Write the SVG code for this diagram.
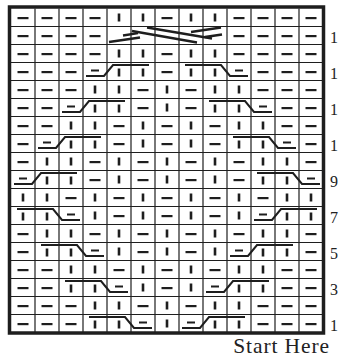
<svg xmlns="http://www.w3.org/2000/svg" xmlns:xlink="http://www.w3.org/1999/xlink" width="339" height="358" viewBox="0 0 339 358">
<style>
.g{stroke:#1e1e1e;stroke-width:1.2;fill:none}
.b{stroke:#1e1e1e;stroke-width:3.5;fill:none}
.s{fill:#1e1e1e}
.c{stroke:#1e1e1e;stroke-width:2;fill:none;stroke-linejoin:miter}
.x{stroke:#1e1e1e;stroke-width:2.3;fill:none}
.n{font-family:"Liberation Serif","Times New Roman",serif;font-size:16px;fill:#222}
.t{font-family:"Liberation Serif","Times New Roman",serif;font-size:21.5px;letter-spacing:0.9px;fill:#222}
</style>
<defs>
<rect id="p" x="-5.5" y="-0.5" width="11" height="2.2"/>
<rect id="k" x="-1.3" y="-4" width="2.6" height="8"/>
<g id="cl">
<rect x="8" y="7" width="8" height="2"/>
<rect x="34.7" y="6" width="2.6" height="8"/>
<rect x="58.7" y="6" width="2.6" height="8"/>
<path class="c" d="M3,13.5 H21 L30,2.5 H66"/>
</g>
<g id="cr">
<rect x="10.7" y="6" width="2.6" height="8"/>
<rect x="34.7" y="6" width="2.6" height="8"/>
<rect x="56" y="7" width="8" height="2"/>
<path class="c" d="M6,2.5 H42 L51,13.5 H69"/>
</g>
</defs>
<rect x="0" y="0" width="339" height="358" fill="#fff"/>
<g id="grid">
<path class="g" d="M35,8.5V332.5M59,8.5V332.5M83,8.5V332.5M107,8.5V332.5M131,8.5V332.5M155,8.5V332.5M179,8.5V332.5M203,8.5V332.5M227,8.5V332.5M251,8.5V332.5M275,8.5V332.5M299,8.5V332.5"/>
<path class="g" d="M11,26.5H323M11,44.5H323M11,62.5H323M11,80.5H323M11,98.5H323M11,116.5H323M11,134.5H323M11,152.5H323M11,170.5H323M11,188.5H323M11,206.5H323M11,224.5H323M11,242.5H323M11,260.5H323M11,278.5H323M11,296.5H323M11,314.5H323"/>
<rect class="b" x="9.5" y="7" width="314" height="326"/>
</g>
<g id="stitches" class="s">
<!-- r0 -->
<use href="#p" x="23" y="17.5"/><use href="#p" x="47" y="17.5"/><use href="#p" x="71" y="17.5"/><use href="#p" x="95" y="17.5"/><use href="#k" x="119" y="17.5"/><use href="#k" x="143" y="17.5"/><use href="#p" x="167" y="17.5"/><use href="#k" x="191" y="17.5"/><use href="#k" x="215" y="17.5"/><use href="#p" x="239" y="17.5"/><use href="#p" x="263" y="17.5"/><use href="#p" x="287" y="17.5"/><use href="#p" x="311" y="17.5"/>
<!-- r1 -->
<use href="#p" x="23" y="35.5"/><use href="#p" x="47" y="35.5"/><use href="#p" x="71" y="35.5"/><use href="#p" x="95" y="35.5"/><use href="#p" x="239" y="35.5"/><use href="#p" x="263" y="35.5"/><use href="#p" x="287" y="35.5"/><use href="#p" x="311" y="35.5"/>
<!-- r2 -->
<use href="#p" x="23" y="53.5"/><use href="#p" x="47" y="53.5"/><use href="#p" x="71" y="53.5"/><use href="#p" x="95" y="53.5"/><use href="#k" x="119" y="53.5"/><use href="#k" x="143" y="53.5"/><use href="#p" x="167" y="53.5"/><use href="#k" x="191" y="53.5"/><use href="#k" x="215" y="53.5"/><use href="#p" x="239" y="53.5"/><use href="#p" x="263" y="53.5"/><use href="#p" x="287" y="53.5"/><use href="#p" x="311" y="53.5"/>
<!-- r3 -->
<use href="#p" x="23" y="71.5"/><use href="#p" x="47" y="71.5"/><use href="#p" x="71" y="71.5"/><use href="#p" x="167" y="71.5"/><use href="#p" x="263" y="71.5"/><use href="#p" x="287" y="71.5"/><use href="#p" x="311" y="71.5"/>
<!-- r4 -->
<use href="#p" x="23" y="89.5"/><use href="#p" x="47" y="89.5"/><use href="#p" x="71" y="89.5"/><use href="#k" x="95" y="89.5"/><use href="#k" x="119" y="89.5"/><use href="#p" x="143" y="89.5"/><use href="#k" x="167" y="89.5"/><use href="#p" x="191" y="89.5"/><use href="#k" x="215" y="89.5"/><use href="#k" x="239" y="89.5"/><use href="#p" x="263" y="89.5"/><use href="#p" x="287" y="89.5"/><use href="#p" x="311" y="89.5"/>
<!-- r5 -->
<use href="#p" x="23" y="107.5"/><use href="#p" x="47" y="107.5"/><use href="#p" x="143" y="107.5"/><use href="#k" x="167" y="107.5"/><use href="#p" x="191" y="107.5"/><use href="#p" x="287" y="107.5"/><use href="#p" x="311" y="107.5"/>
<!-- r6 -->
<use href="#p" x="23" y="125.5"/><use href="#p" x="47" y="125.5"/><use href="#k" x="71" y="125.5"/><use href="#k" x="95" y="125.5"/><use href="#p" x="119" y="125.5"/><use href="#k" x="143" y="125.5"/><use href="#p" x="167" y="125.5"/><use href="#k" x="191" y="125.5"/><use href="#p" x="215" y="125.5"/><use href="#k" x="239" y="125.5"/><use href="#k" x="263" y="125.5"/><use href="#p" x="287" y="125.5"/><use href="#p" x="311" y="125.5"/>
<!-- r7 -->
<use href="#p" x="23" y="143.5"/><use href="#p" x="119" y="143.5"/><use href="#k" x="143" y="143.5"/><use href="#p" x="167" y="143.5"/><use href="#k" x="191" y="143.5"/><use href="#p" x="215" y="143.5"/><use href="#p" x="311" y="143.5"/>
<!-- r8 -->
<use href="#p" x="23" y="161.5"/><use href="#k" x="47" y="161.5"/><use href="#k" x="71" y="161.5"/><use href="#p" x="95" y="161.5"/><use href="#k" x="119" y="161.5"/><use href="#p" x="143" y="161.5"/><use href="#k" x="167" y="161.5"/><use href="#p" x="191" y="161.5"/><use href="#k" x="215" y="161.5"/><use href="#p" x="239" y="161.5"/><use href="#k" x="263" y="161.5"/><use href="#k" x="287" y="161.5"/><use href="#p" x="311" y="161.5"/>
<!-- r9 -->
<use href="#p" x="95" y="179.5"/><use href="#k" x="119" y="179.5"/><use href="#p" x="143" y="179.5"/><use href="#k" x="167" y="179.5"/><use href="#p" x="191" y="179.5"/><use href="#k" x="215" y="179.5"/><use href="#p" x="239" y="179.5"/>
<!-- r10 -->
<use href="#k" x="23" y="197.5"/><use href="#k" x="47" y="197.5"/><use href="#p" x="71" y="197.5"/><use href="#k" x="95" y="197.5"/><use href="#p" x="119" y="197.5"/><use href="#k" x="143" y="197.5"/><use href="#p" x="167" y="197.5"/><use href="#k" x="191" y="197.5"/><use href="#p" x="215" y="197.5"/><use href="#k" x="239" y="197.5"/><use href="#p" x="263" y="197.5"/><use href="#k" x="287" y="197.5"/><use href="#k" x="311" y="197.5"/>
<!-- r11 -->
<use href="#k" x="95" y="215.5"/><use href="#p" x="119" y="215.5"/><use href="#k" x="143" y="215.5"/><use href="#p" x="167" y="215.5"/><use href="#k" x="191" y="215.5"/><use href="#p" x="215" y="215.5"/><use href="#k" x="239" y="215.5"/>
<!-- r12 -->
<use href="#p" x="23" y="233.5"/><use href="#k" x="47" y="233.5"/><use href="#k" x="71" y="233.5"/><use href="#p" x="95" y="233.5"/><use href="#k" x="119" y="233.5"/><use href="#p" x="143" y="233.5"/><use href="#k" x="167" y="233.5"/><use href="#p" x="191" y="233.5"/><use href="#k" x="215" y="233.5"/><use href="#p" x="239" y="233.5"/><use href="#k" x="263" y="233.5"/><use href="#k" x="287" y="233.5"/><use href="#p" x="311" y="233.5"/>
<!-- r13 -->
<use href="#p" x="23" y="251.5"/><use href="#k" x="119" y="251.5"/><use href="#p" x="143" y="251.5"/><use href="#k" x="167" y="251.5"/><use href="#p" x="191" y="251.5"/><use href="#k" x="215" y="251.5"/><use href="#p" x="311" y="251.5"/>
<!-- r14 -->
<use href="#p" x="23" y="269.5"/><use href="#p" x="47" y="269.5"/><use href="#k" x="71" y="269.5"/><use href="#k" x="95" y="269.5"/><use href="#p" x="119" y="269.5"/><use href="#k" x="143" y="269.5"/><use href="#p" x="167" y="269.5"/><use href="#k" x="191" y="269.5"/><use href="#p" x="215" y="269.5"/><use href="#k" x="239" y="269.5"/><use href="#k" x="263" y="269.5"/><use href="#p" x="287" y="269.5"/><use href="#p" x="311" y="269.5"/>
<!-- r15 -->
<use href="#p" x="23" y="287.5"/><use href="#p" x="47" y="287.5"/><use href="#k" x="143" y="287.5"/><use href="#p" x="167" y="287.5"/><use href="#k" x="191" y="287.5"/><use href="#p" x="287" y="287.5"/><use href="#p" x="311" y="287.5"/>
<!-- r16 -->
<use href="#p" x="23" y="305.5"/><use href="#p" x="47" y="305.5"/><use href="#p" x="71" y="305.5"/><use href="#k" x="95" y="305.5"/><use href="#k" x="119" y="305.5"/><use href="#p" x="143" y="305.5"/><use href="#k" x="167" y="305.5"/><use href="#p" x="191" y="305.5"/><use href="#k" x="215" y="305.5"/><use href="#k" x="239" y="305.5"/><use href="#p" x="263" y="305.5"/><use href="#p" x="287" y="305.5"/><use href="#p" x="311" y="305.5"/>
<!-- r17 -->
<use href="#p" x="23" y="323.5"/><use href="#p" x="47" y="323.5"/><use href="#p" x="71" y="323.5"/><use href="#k" x="167" y="323.5"/><use href="#p" x="263" y="323.5"/><use href="#p" x="287" y="323.5"/><use href="#p" x="311" y="323.5"/>
</g>
<g id="cables" class="s">
<use href="#cl" x="83" y="62.5"/><use href="#cr" x="179" y="62.5"/>
<use href="#cl" x="59" y="98.5"/><use href="#cr" x="203" y="98.5"/>
<use href="#cl" x="35" y="134.5"/><use href="#cr" x="227" y="134.5"/>
<use href="#cl" x="11" y="170.5"/><use href="#cr" x="251" y="170.5"/>
<use href="#cr" x="11" y="206.5"/><use href="#cl" x="251" y="206.5"/>
<use href="#cr" x="35" y="242.5"/><use href="#cl" x="227" y="242.5"/>
<use href="#cr" x="59" y="278.5"/><use href="#cl" x="203" y="278.5"/>
<use href="#cr" x="83" y="314.5"/><use href="#cl" x="179" y="314.5"/>
<g id="cross">
<path class="x" d="M109,42 L140,37.5"/>
<path class="x" d="M123,35.5 L138,33.2"/>
<path class="x" d="M147,27.5 L212,38.5"/>
<path class="x" d="M132,31 L197,42.5"/>
<path class="x" d="M191,32 L221,27.5"/>
<path class="x" d="M205,37 L222,34.5"/>
</g>
</g>
<g id="labels">
<text class="n" x="330" y="42.7">1</text>
<text class="n" x="330" y="78.7">1</text>
<text class="n" x="330" y="114.7">1</text>
<text class="n" x="330" y="150.7">1</text>
<text class="n" x="330" y="186.7">9</text>
<text class="n" x="330" y="222.7">7</text>
<text class="n" x="330" y="258.7">5</text>
<text class="n" x="330" y="294.7">3</text>
<text class="n" x="330" y="330.7">1</text>
<text class="t" x="330" y="353" text-anchor="end">Start Here</text>
</g>
</svg>
